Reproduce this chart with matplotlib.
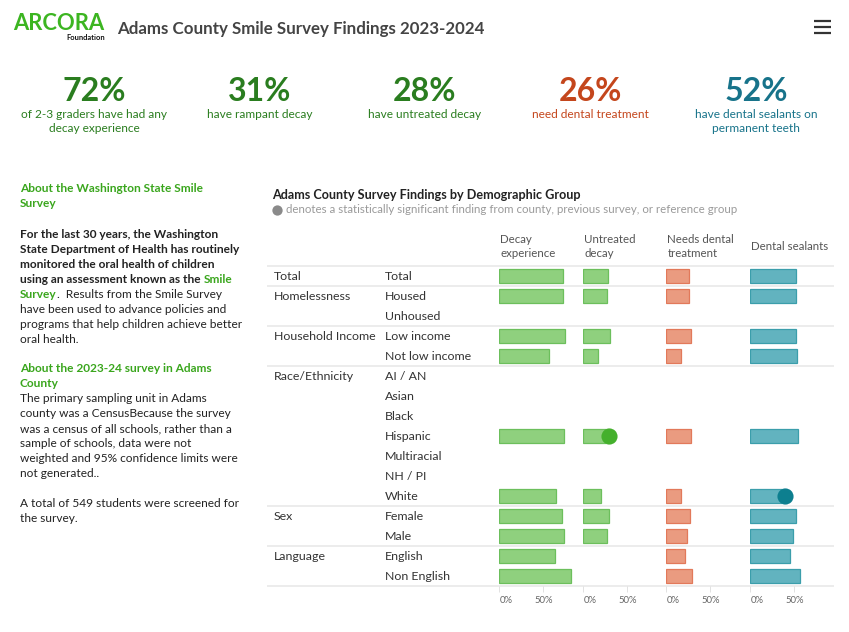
import matplotlib
matplotlib.use("Agg")
import matplotlib.pyplot as plt
import numpy as np

plt.rcParams["font.family"] = ["Lato", "DejaVu Sans"]

# =========================
# Data
# =========================
kpi_values = ["72%", "31%", "28%", "26%", "52%"]
kpi_labels = [
    "of 2-3 graders have had any\ndecay experience",
    "have rampant decay",
    "have untreated decay",
    "need dental treatment",
    "have dental sealants on\npermanent teeth",
]

groups = ["Total", "Homelessness", "", "Household Income", "", "Race/Ethnicity",
          "", "", "", "", "", "", "Sex", "", "Language", ""]
subgroups = ["Total", "Housed", "Unhoused", "Low income", "Not low income",
             "AI / AN", "Asian", "Black", "Hispanic", "Multiracial", "NH / PI",
             "White", "Female", "Male", "English", "Non English"]

nan = np.nan
decay = [72, 72, nan, 75, 57, nan, nan, nan, 74, nan, nan, 64, 71, 73, 63, 81]
untreated = [28, 27, nan, 30, 17, nan, nan, nan, 29, nan, nan, 20, 29, 27, nan, nan]
needs = [26, 26, nan, 28, 17, nan, nan, nan, 28, nan, nan, 17, 27, 24, 21, 29]
sealants = [52, 52, nan, 52, 53, nan, nan, nan, 54, nan, nan, 39, 52, 49, 45, 56]

metric_names = ["Decay\nexperience", "Untreated\ndecay", "Needs dental\ntreatment", "Dental sealants"]
metric_values = [decay, untreated, needs, sealants]
# significant findings: (metric index, subgroup)
significant = [(1, "Hispanic"), (3, "White")]

green_fill, green_edge, green_dot = "#8fd07e", "#6cbf5c", "#45b02d"
orange_fill, orange_edge = "#ea9b80", "#e2795a"
teal_fill, teal_edge, teal_dot = "#62b3bf", "#3b9eab", "#0d7f8f"
fills = [green_fill, green_fill, orange_fill, teal_fill]
edges = [green_edge, green_edge, orange_edge, teal_edge]
dots = [green_dot, green_dot, orange_edge, teal_dot]

kpi_dark_green = "#2a7d1f"
kpi_colors = [kpi_dark_green, kpi_dark_green, kpi_dark_green, "#c4461c", "#17738a"]
head_green = "#3aa61d"

# =========================
# Figure + pixel-space canvas
# =========================
W, H = 849, 632
fig = plt.figure(figsize=(W / 100, H / 100), dpi=100)
ax = fig.add_axes([0, 0, 1, 1])
ax.set_xlim(0, W)
ax.set_ylim(H, 0)
ax.axis("off")

# header
ax.text(13, 30, "ARCORA", color="#3cb521", fontsize=15.8, fontweight="bold", va="baseline")
ax.text(105, 40, "Foundation", color="#111111", fontsize=5.4, fontweight="bold",
        ha="right", va="baseline")
ax.text(117, 34, "Adams County Smile Survey Findings 2023-2024", color="#444444",
        fontsize=12.2, fontweight="bold", va="baseline")
for yy in [21, 27, 33]:
    ax.plot([814, 831], [yy, yy], color="#333333", lw=1.6, solid_capstyle="butt")

# KPI row
kpi_x = [94, 260, 425, 590, 756]
for x, v, lab, c in zip(kpi_x, kpi_values, kpi_labels, kpi_colors):
    ax.text(x, 101, v, color=c, fontsize=23, fontweight="bold", ha="center", va="baseline")
    ax.text(x, 108.5, lab, color=c, fontsize=8.6, ha="center", va="top", linespacing=1.4)

# =========================
# Left column text
# =========================
fs = 8.55
lh = 15.0


def line(y, s, color="#222222", weight="normal"):
    return ax.text(20, y, s, color=color, fontsize=fs, fontweight=weight, va="baseline")


def after(prev, s, color="#222222", weight="normal", dx=0):
    return ax.annotate(s, xy=(1, 0), xycoords=prev, xytext=(dx, 0), textcoords="offset points",
                       color=color, fontsize=fs, fontweight=weight, va="bottom", ha="left")


y0 = 192
line(y0, "About the Washington State Smile", head_green, "bold")
line(y0 + lh, "Survey", head_green, "bold")
y1 = 238
line(y1, "For the last 30 years, the Washington", weight="bold")
line(y1 + lh, "State Department of Health has routinely", weight="bold")
line(y1 + 2 * lh, "monitored the oral health of children", weight="bold")
t = line(y1 + 3 * lh, "using an assessment known as the", weight="bold")
after(t, "Smile", head_green, "bold", dx=2.5)
t = line(y1 + 4 * lh, "Survey", head_green, "bold")
after(t, ".  Results from the Smile Survey")
line(y1 + 5 * lh, "have been used to advance policies and")
line(y1 + 6 * lh, "programs that help children achieve better")
line(y1 + 7 * lh, "oral health.")

y2 = 372
line(y2, "About the 2023-24 survey in Adams", head_green, "bold")
line(y2 + lh, "County", head_green, "bold")
para = ["The primary sampling unit in Adams",
        "county was a CensusBecause the survey",
        "was a census of all schools, rather than a",
        "sample of schools, data were not",
        "weighted and 95% confidence limits were",
        "not generated..",
        "",
        "A total of 549 students were screened for",
        "the survey."]
for i, s in enumerate(para):
    line(y2 + (i + 2) * lh, s)

# =========================
# Chart titles / headers
# =========================
ax.text(272, 199, "Adams County Survey Findings by Demographic Group", color="#222222",
        fontsize=9.1, fontweight="bold", va="baseline")
ax.scatter([277.5], [209.5], s=55, color="#8a8a8a", linewidths=0)
ax.text(286, 213, "denotes a statistically significant finding from county, previous survey, or reference group",
        color="#9a9a9a", fontsize=8.25, va="baseline")

panel_x0 = [499.3, 583.3, 666.3, 750.3]
for x0, name in zip(panel_x0, metric_names):
    ax.text(x0 + 1, 246.5, name, color="#555555", fontsize=8.3, va="center", linespacing=1.35)

# row labels and separators
row_top = 266
row_h = 20
n = len(subgroups)
for i, (g, s) in enumerate(zip(groups, subgroups)):
    yc = row_top + row_h * (i + 0.5) + 0.8
    ax.text(274, yc, g, color="#333333", fontsize=8.9, va="center")
    ax.text(385, yc, s, color="#333333", fontsize=8.9, va="center")

sep_rows = [0] + [i for i, g in enumerate(groups) if g and i > 0] + [n]
for r in sep_rows:
    yy = row_top + r * row_h
    ax.plot([268, 833], [yy, yy], color="#ececec", lw=1.4, zorder=0)

# =========================
# Bar panels
# =========================
px_per_unit = 88.0  # pixels per 100%
x_max = 0.95
for k, (x0, vals) in enumerate(zip(panel_x0, metric_values)):
    pax = fig.add_axes([x0 / W, (H - (row_top + n * row_h)) / H,
                        x_max * px_per_unit / W, n * row_h / H])
    pax.set_facecolor("none")
    pax.set_xlim(0, x_max)
    pax.set_ylim(n - 0.5, -0.5)
    v = np.array(vals, dtype=float) / 100
    rows = np.arange(n)
    ok = ~np.isnan(v)
    pax.barh(rows[ok], v[ok], height=0.67, color=fills[k], edgecolor=edges[k],
             linewidth=0.9, zorder=2)
    for mk, grp in significant:
        if mk == k:
            r = subgroups.index(grp)
            pax.scatter([v[r]], [r], s=135, color=dots[k], linewidths=0, zorder=3)
    for sp in pax.spines.values():
        sp.set_visible(False)
    pax.set_yticks([])
    pax.set_xticks([0, 0.5])
    pax.set_xticklabels(["0%", "50%"])
    pax.tick_params(axis="x", length=4, width=0.6, color="#dddddd", pad=3,
                    labelsize=6.8, labelcolor="#666666")
    for lab, ha in zip(pax.get_xticklabels(), ["left", "center"]):
        lab.set_horizontalalignment(ha)

fig.savefig("out.png", dpi=100)
